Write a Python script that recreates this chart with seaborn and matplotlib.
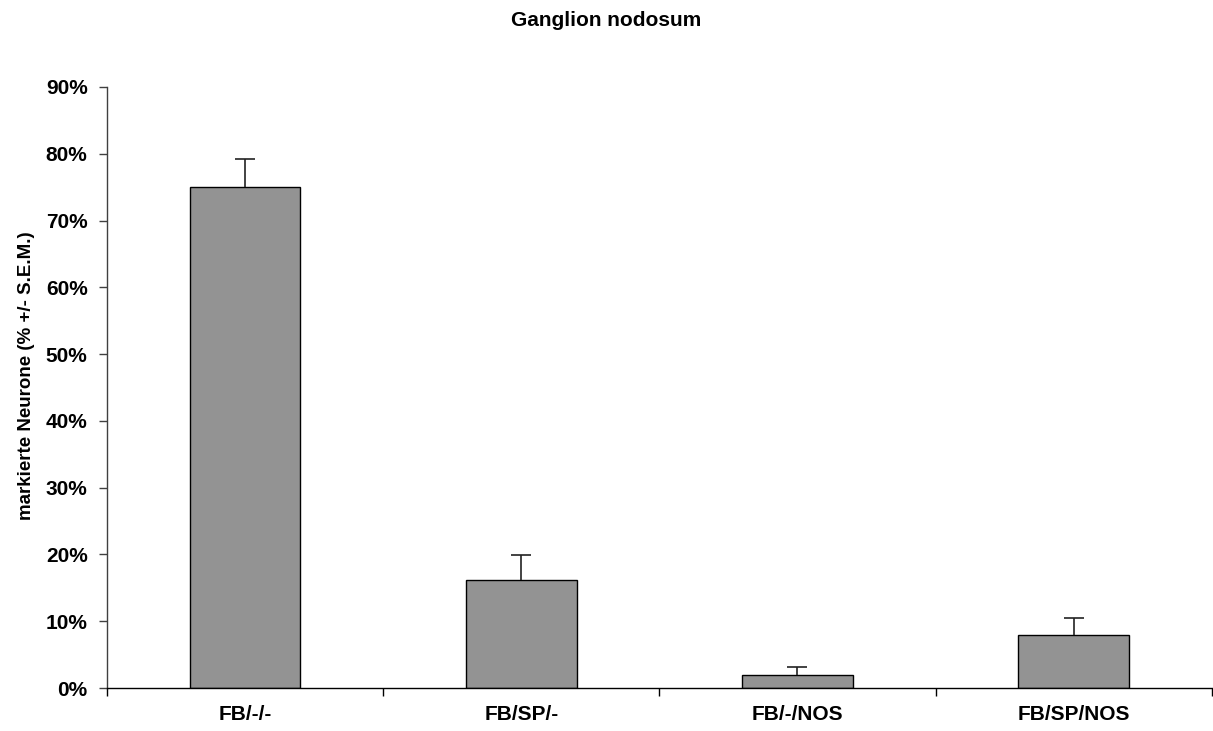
import matplotlib
matplotlib.use("Agg")
import matplotlib.pyplot as plt
import seaborn as sns
import pandas as pd
import numpy as np
from matplotlib.ticker import FixedLocator, PercentFormatter

categories = ["FB/-/-", "FB/SP/-", "FB/-/NOS", "FB/SP/NOS"]
values = [75.0, 16.1, 1.95, 7.9]
sem = [4.2, 3.8, 1.2, 2.6]
yticks = [0, 10, 20, 30, 40, 50, 60, 70, 80, 90]

sns.set_theme(style="white")
plt.rcParams['font.family'] = ['Liberation Sans', 'DejaVu Sans']

df = pd.DataFrame({"cat": categories, "val": values})

fig = plt.figure(figsize=(12.13, 7.31), dpi=100)
ax = fig.add_axes([0.0882, 0.0588, 0.9108, 0.8222])

sns.barplot(data=df, x="cat", y="val", ax=ax, color="#939393", saturation=1,
            width=0.4, edgecolor="black", linewidth=1.0, errorbar=None)

eb = ax.errorbar(np.arange(len(categories)), values,
                 yerr=[np.zeros(len(sem)), sem], fmt="none", ecolor="#222222",
                 elinewidth=1.2, capsize=7, capthick=1.2)
# one-sided error bars: hide lower caps
eb[1][0].set_visible(False)

ax.set_xlim(-0.5, len(categories) - 0.5)
ax.set_ylim(0, 90)
ax.set_yticks(yticks)
ax.yaxis.set_major_formatter(PercentFormatter(decimals=0))

ax.xaxis.set_minor_locator(FixedLocator(np.arange(len(categories) + 1) - 0.5))
ax.tick_params(axis="x", which="major", length=0, pad=12)
ax.tick_params(axis="x", which="minor", length=6, width=1, color="black", direction="out", bottom=True)
ax.tick_params(axis="y", which="major", length=6, width=1, color="#404040", direction="out", left=True, pad=8)

for lbl in ax.get_xticklabels() + ax.get_yticklabels():
    lbl.set_fontsize(15)
    lbl.set_fontweight("bold")
    lbl.set_color("black")

ax.set_xlabel("")
ax.set_ylabel("markierte Neurone (% +/- S.E.M.)", fontsize=13.5, fontweight="bold", color="black")
ax.yaxis.set_label_coords(-0.065, 0.52)

for s in ["top", "right"]:
    ax.spines[s].set_visible(False)
ax.spines["left"].set_color("#404040")
ax.spines["left"].set_linewidth(1.0)
ax.spines["bottom"].set_color("black")
ax.spines["bottom"].set_linewidth(1.0)

fig.text(0.5, 0.972, "Ganglion nodosum", ha="center", va="center", fontsize=15,
         fontweight="bold", color="black")

fig.savefig("out.png", dpi=100)
